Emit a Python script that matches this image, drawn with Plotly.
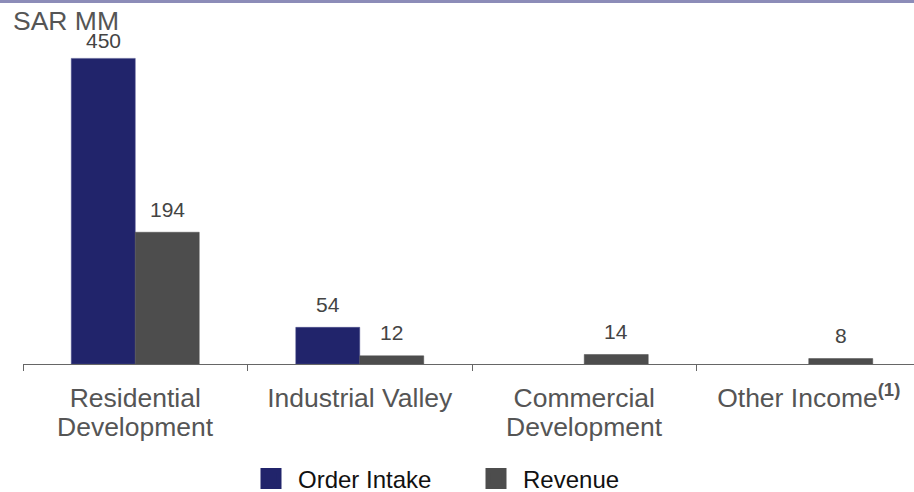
import plotly.graph_objects as go

categories = ["Residential Development", "Industrial Valley", "Commercial Development", "Other Income"]
label_line1 = ["Residential", "Industrial Valley", "Commercial", "Other Income<sup><b>(1)</b></sup>"]
label_line2 = ["Development", "", "Development", ""]
series_names = ["Order Intake", "Revenue"]
order_intake = [450, 54, None, None]
revenue = [194, 12, 14, 8]
order_labels = ["450", "54", "", ""]
revenue_labels = ["194", "12", "14", "8"]

W, H = 914, 492
ML, MR, MT, MB = 23, 0, 38, 128
PW = W - ML - MR
PH = H - MT - MB
BARGAP = 0.43
CAT_PX = 898.0 / 4            # pixel width of one category slot
BAR_OFF = CAT_PX * (1 - BARGAP) / 4   # offset of each bar centre from slot centre

COL_OI = "#21246b"
COL_REV = "#4d4d4d"
colors = [COL_OI, COL_REV]

fig = go.Figure()
fig.add_trace(go.Bar(
    name=series_names[0], x=categories, y=order_intake, showlegend=False,
    marker=dict(color=COL_OI, line=dict(color="#4a4d8a", width=0.5)),
))
fig.add_trace(go.Bar(
    name=series_names[1], x=categories, y=revenue, showlegend=False,
    marker=dict(color=COL_REV, line=dict(color=COL_REV, width=0.5)),
))

# legend entries with large square swatches
for name, col in zip(series_names, colors):
    fig.add_trace(go.Scatter(
        name=name, x=[None], y=[None], mode="markers", showlegend=True,
        marker=dict(symbol="square", size=30, color=col, line=dict(color=col, width=5)),
    ))

# value labels above each bar
for series, labels, side in ((order_intake, order_labels, -1), (revenue, revenue_labels, 1)):
    for cat, val, lab in zip(categories, series, labels):
        if val is None or not lab:
            continue
        gap = 17.5 if val > 400 else 23
        fig.add_annotation(text=lab, x=cat, y=val, xref="x", yref="y",
                           xshift=side * BAR_OFF, yshift=gap, yanchor="middle", xanchor="center",
                           showarrow=False, font=dict(size=21, color="#444444"))

fig.update_layout(
    width=W, height=H,
    margin=dict(l=ML, r=MR, t=MT, b=MB, pad=0, autoexpand=False),
    paper_bgcolor="white", plot_bgcolor="white",
    font=dict(family="Liberation Sans, Arial, sans-serif", color="#555555"),
    barmode="group", bargap=BARGAP, bargroupgap=0,
    showlegend=True,
    legend=dict(orientation="h", x=(244 - ML) / PW, xanchor="left",
                yref="container", y=1 - 479 / H, yanchor="middle",
                font=dict(size=24, color="#111111"), entrywidth=166, entrywidthmode="pixels",
                itemwidth=44, itemsizing="trace", traceorder="normal"),
    xaxis=dict(range=[-0.5, -0.5 + 4 * PW / 898.0], showgrid=False, zeroline=False,
               showline=True, linecolor="#666666", linewidth=1,
               ticks="outside", tickson="boundaries", ticklen=6, tickcolor="#666666",
               tickmode="array", tickvals=categories, ticktext=label_line1,
               ticklabelstandoff=10, automargin=False,
               tickfont=dict(size=26.5, color="#555555"), fixedrange=True),
    yaxis=dict(range=[0, 480], visible=False, fixedrange=True),
)

for cat, line2 in zip(categories, label_line2):
    if line2:
        fig.add_annotation(text=line2, x=cat, xref="x", yref="paper", y=(364 - 427) / PH,
                           yanchor="middle", xanchor="center", showarrow=False,
                           font=dict(size=26.5, color="#555555"))

# top decorative rule
fig.add_shape(type="rect", xref="paper", yref="paper",
              x0=-ML / PW, x1=1.0, y0=1 + (MT - 3) / PH, y1=1 + MT / PH,
              line=dict(width=0), fillcolor="#8c8cb8", layer="above")

fig.add_annotation(text="SAR MM", xref="paper", yref="paper", borderpad=0,
                   x=(12 - ML) / PW, y=(H - MB - 21) / PH, xanchor="left", yanchor="middle",
                   showarrow=False, font=dict(size=26.5, color="#555555"))

fig.write_html("out.html", config={"displayModeBar": False},
               post_script="document.body.style.margin='0';document.body.style.padding='0';")
